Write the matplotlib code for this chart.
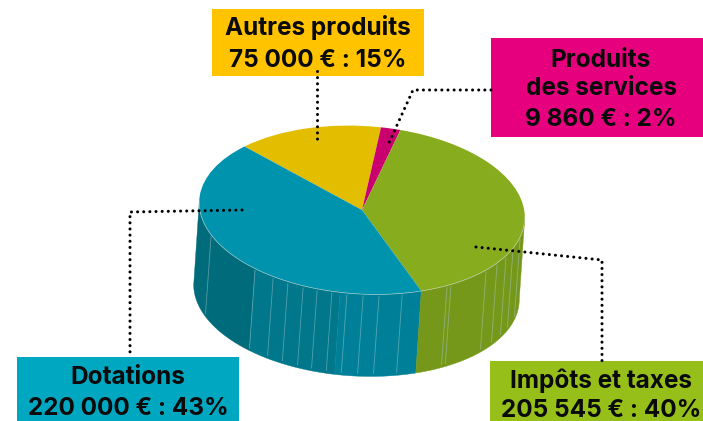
import numpy as np
import matplotlib
matplotlib.use("Agg")
import matplotlib.pyplot as plt
from matplotlib.patches import Rectangle, Polygon
from matplotlib.transforms import Affine2D

# amounts in euros, clockwise from the yellow slice
names = ["Autres produits", "Produits\ndes services", "Impôts et taxes", "Dotations"]
amounts = [75000, 9860, 205545, 220000]
amount_labels = ["75 000 € : 15%", "9 860 € : 2%", "205 545 € : 40%", "220 000 € : 43%"]
top_colors = ["#E3BE00", "#CB006F", "#87AC1E", "#0093AD"]
box_colors = ["#FFC300", "#E6007E", "#97BF1A", "#00A7C1"]

# x of the light stripes on the side of the pie
stripes_x = [211, 255, 273, 288, 303, 317, 332, 347, 363, 379, 402,
             447, 451, 486, 497, 506, 513, 520]

plt.rcParams['font.family'] = ['Inter', 'DejaVu Sans']

fig = plt.figure(figsize=(7.03, 4.21), dpi=100)
ax = fig.add_axes([0, 0, 1, 1])

wedges, _ = ax.pie(amounts, colors=top_colors, startangle=138, counterclock=False)

# pie geometry in pixels
cx, cy, a, b, tilt = 362, 210, 163, 84, 3.5
dx, dy = -5.5, 82
ell = Affine2D().scale(a, -b).rotate_deg(tilt).translate(cx, cy)


def rim(t_deg):
    t = np.radians(t_deg)
    return ell.transform(np.column_stack([np.cos(t), np.sin(t)]))


fine = np.linspace(-190, 10, 1500)
fine_x = rim(fine)[:, 0]
t_left = fine[np.argmin(fine_x)]
t_right = fine[np.argmax(fine_x)]


def t_at(x):
    return fine[np.argmin(np.abs(fine_x - x))]


def wall(t1, t2, color):
    ts = np.linspace(t1, t2, 40)
    up = rim(ts)
    low = up + [dx, dy]
    ax.add_patch(Polygon(np.vstack([up, low[::-1]]), closed=True, fc=color, ec=color, lw=0.3, zorder=1))


# side walls, only the front half can be seen
teal_end = wedges[3].theta2
wall(t_left, t_at(255), "#006B7B")
wall(t_at(255), t_at(340), "#00778B")
wall(t_at(340), teal_end, "#008098")
wall(teal_end, t_right, "#76981A")

for x in stripes_x:
    p = rim(np.array([t_at(x)]))[0]
    ax.plot([p[0], p[0] + dx], [p[1] + 2, p[1] + dy - 3], color="#A9CBCF", lw=0.6, alpha=0.5, zorder=2)

for w in wedges:
    w.set_transform(ell + ax.transData)
    w.set_zorder(3)

# light rim along the front edge
front = rim(np.linspace(t_left, t_right, 200))
ax.plot(front[:, 0], front[:, 1], color="#CFE0D8", lw=0.5, alpha=0.7, zorder=3)

ax.set_xlim(0, 703)
ax.set_ylim(421, 0)
ax.set_aspect('auto')
ax.axis('off')

# label boxes
boxes = [(212, 9, 212, 67), (491, 38, 212, 99), (490, 361, 213, 60), (17, 357, 222, 64)]
for (x, y, w, h), c in zip(boxes, box_colors):
    ax.add_patch(Rectangle((x, y), w, h, fc=c, ec='none', zorder=4))

# leader lines
leaders = [([317, 317], [71, 139]),
           ([491, 413, 388], [90, 90, 145]),
           ([476, 602, 602], [247, 260, 361]),
           ([242, 130, 130], [210, 212, 357])]
for xs, ys in leaders:
    ax.plot(xs, ys, color="black", lw=2.2, linestyle=(0, (0.01, 2.0)), dash_capstyle='round', zorder=5)

# text, baselines in pixels
text_x = [318, 601, 601, 128]
text_y = [[35, 67], [67, 95, 126], [388, 417], [384, 415]]
for i in range(4):
    lines = names[i].split("\n") + [amount_labels[i]]
    for line, y in zip(lines, text_y[i]):
        ax.text(text_x[i], y, line, ha='center', va='baseline', fontsize=17.5, fontweight='bold',
                color="#0A0A0A", zorder=6)

fig.savefig("out.png", dpi=100)
